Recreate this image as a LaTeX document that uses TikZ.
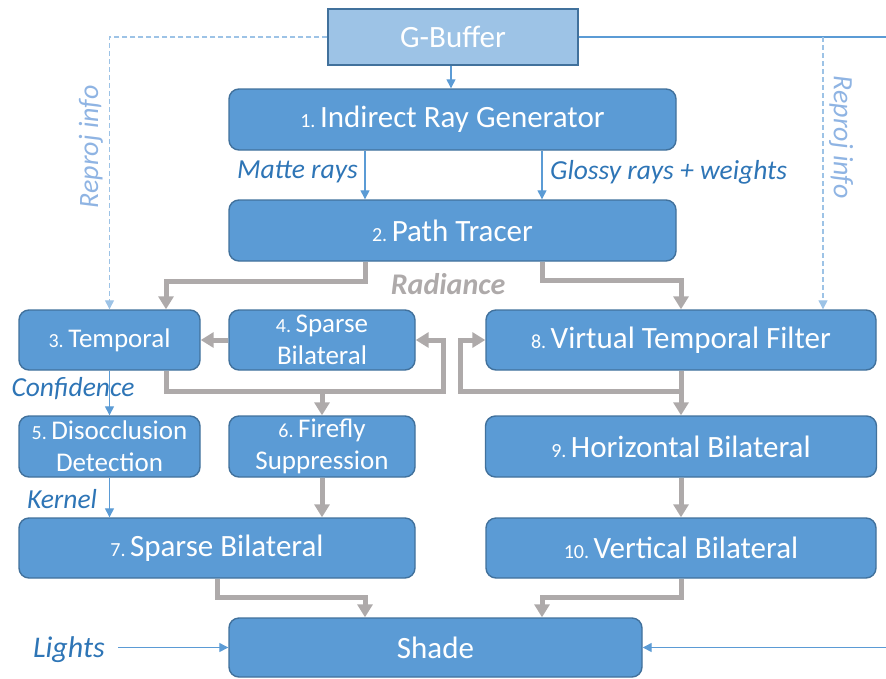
\documentclass[tikz,border=0pt]{standalone}
\usepackage{fontspec}
\setmainfont{Carlito}
\usetikzlibrary{arrows.meta}
\definecolor{boxfill}{HTML}{5B9BD5}
\definecolor{boxline}{HTML}{41719C}
\definecolor{gfill}{HTML}{9DC3E6}
\definecolor{lblue}{HTML}{2E75B6}
\definecolor{rblue}{HTML}{8FB4E3}
\definecolor{gry}{HTML}{AEAAAA}
\newcommand\numb[1]{{\fontsize{20}{20}\selectfont #1\ }}
\tikzset{
  box/.style={draw=boxline, fill=boxfill, line width=1.4pt, rounded corners=10pt, text=white, align=center, inner sep=0pt},
  bigtxt/.style={font=\fontsize{31}{34}\selectfont},
  smalltxt/.style={font=\fontsize{27}{32}\selectfont},
  garrow/.style={draw=gry, line width=5pt, -{Triangle[width=15pt,length=13pt]}},
  barrow/.style={draw=boxfill, line width=1.3pt, -{Triangle[width=9pt,length=9pt]}},
  bline/.style={draw=boxfill, line width=1.3pt},
  darrow/.style={draw=gfill, line width=1.3pt, dash pattern=on 5pt off 3pt, -{Triangle[width=9pt,length=9pt]}},
  lbl/.style={text=lblue, font=\fontsize{27.5}{30}\selectfont\itshape, inner sep=0pt},
  rlbl/.style={text=rblue, font=\fontsize{28}{30}\selectfont\itshape, inner sep=0pt},
}
\begin{document}
\begin{tikzpicture}[x=1pt,y=-1pt]
\useasboundingbox (0,0) rectangle (886,678);
% nodes
\node[draw=boxline, fill=gfill, line width=1.4pt, text=white, bigtxt, minimum width=250pt, minimum height=56pt] (gbuf) at (453,37) {G-Buffer};
\node[box, bigtxt, minimum width=447pt, minimum height=61pt] (n1) at (452.5,119.5) {\numb{1.}Indirect Ray Generator};
\node[box, bigtxt, minimum width=447pt, minimum height=61pt] (n2) at (452.5,230.5) {\numb{2.}Path Tracer};
\node[box, smalltxt, minimum width=181pt, minimum height=60pt] (n3) at (109.5,340) {\numb{3.}Temporal};
\node[box, smalltxt, minimum width=186pt, minimum height=60pt] (n4) at (322,340) {\numb{4.}Sparse\\Bilateral};
\node[box, bigtxt, minimum width=390pt, minimum height=60pt] (n8) at (681,340) {\numb{8.}Virtual Temporal Filter};
\node[box, smalltxt, minimum width=181pt, minimum height=61pt] (n5) at (109.5,446.5) {\numb{5.}Disocclusion\\Detection};
\node[box, smalltxt, minimum width=186pt, minimum height=61pt] (n6) at (322,446.5) {\numb{6.}Firefly\\Suppression};
\node[box, bigtxt, minimum width=391pt, minimum height=61pt] (n9) at (681,446.5) {\numb{9.}Horizontal Bilateral};
\node[box, bigtxt, minimum width=396pt, minimum height=60pt] (n7) at (217,548) {\numb{7.}Sparse Bilateral};
\node[box, bigtxt, minimum width=390pt, minimum height=60pt] (n10) at (681,548) {\numb{10.}Vertical Bilateral};
\node[box, bigtxt, minimum width=413pt, minimum height=59pt] (shade) at (435.5,647.5) {Shade};
% labels
\node[lbl, anchor=east] (lmatte) at (358,172) {Matte rays};
\node[lbl, anchor=west] (lglossy) at (550,172) {Glossy rays + weights};
\node[text=gry, font=\fontsize{30}{32}\selectfont\bfseries\itshape, inner sep=0pt] (lrad) at (448,284) {Radiance};
\node[lbl] (lconf) at (73,389) {Confidence};
\node[lbl] (lkern) at (62,499) {Kernel};
\node[lbl, font=\fontsize{30}{32}\selectfont\itshape, anchor=east] (llights) at (105,650) {Lights};
\node[rlbl, rotate=90] (lrepl) at (91,147) {Reproj info};
\node[rlbl, rotate=-90] (lrepr) at (841,137) {Reproj info};
% helper coordinates
\coordinate (cL) at (365,0);
\coordinate (cR) at (542,0);
\coordinate (cT) at (166,0);
\coordinate (yB) at (0,391);
\coordinate (rx) at (823,37);
\coordinate (eTop) at (886,37);
\coordinate (eBot) at (886,647.5);
\coordinate (lstart) at (118,647.5);
% blue connectors
\draw[barrow] (gbuf.south -| 451,0) -- (n1.north -| 451,0);
\draw[barrow] (n1.south -| cL) -- (n2.north -| cL);
\draw[barrow] (n1.south -| cR) -- (n2.north -| cR);
\draw[barrow] (n3.south) -- (n5.north);
\draw[barrow] (n5.south) -- (n7.north -| n5.south);
\draw[barrow] (lstart) -- (shade.west);
\draw[bline] (gbuf.east) -- (eTop);
\draw[barrow] (eBot) -- (shade.east);
\draw[darrow] (gbuf.west) -| (n3.north);
\draw[darrow] (rx) -- (n8.north -| rx);
% gray connectors
\draw[garrow] (n2.south -| cL) -- ++(0,20) -| (n3.north -| cT);
\draw[garrow] (n2.south -| cR) -- ++(0,19) -| (n8.north);
\draw[garrow] (n4.west) -- (n3.east);
\draw[garrow] (n3.south -| cT) -- ++(0,21) -| ([xshift=28pt]n4.east) -- (n4.east);
\draw[garrow] (n6.north |- yB) -- (n6.north);
\draw[garrow] (n8.south) -- ++(0,21) -| ([xshift=-25pt]n8.west) -- (n8.west);
\draw[garrow] (n8.south) -- (n9.north);
\draw[garrow] (n6.south) -- (n7.north -| n6.south);
\draw[garrow] (n9.south) -- (n10.north);
\draw[garrow] (n7.south) -- ++(0,19) -| (shade.north -| cL);
\draw[garrow] (n10.south) -- ++(0,19) -| (shade.north -| cR);
\end{tikzpicture}
\end{document}
